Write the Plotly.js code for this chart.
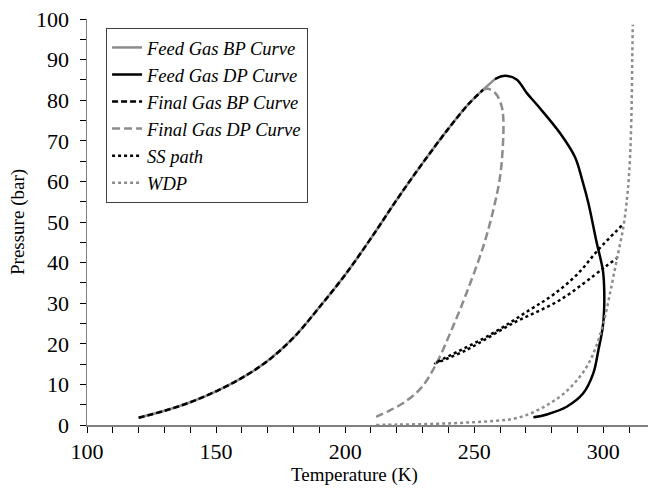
<!DOCTYPE html>
<html>
<head>
<meta charset="utf-8">
<script src="https://cdn.plot.ly/plotly-3.0.1.min.js"></script>
<style>html,body{margin:0;padding:0;background:#fff;}#chart{width:648px;height:493px;}</style>
</head>
<body>
<div id="chart"></div>
<script>
// Feed gas bubble-point curve
const feedBP_T = [120, 130, 140, 150, 160, 170, 180, 190, 200, 210, 220, 230, 240, 248, 253.5, 258];
const feedBP_P = [1.8, 3.5, 5.6, 8.3, 11.6, 15.8, 21.5, 29, 37, 46, 55.5, 64.5, 73, 79.2, 82.6, 85.2];
// Feed gas dew-point curve
const feedDP_T = [258, 261.9, 266.4, 270.3, 274.8, 283.2, 289, 291.8, 294.2, 297.4, 299.8, 300.3, 300.3, 299.8, 298.1, 296.1, 292.2, 285.8, 278.1, 272.9];
const feedDP_P = [85.2, 86, 85.1, 81.8, 78.5, 71.9, 66, 60.4, 54.7, 45, 38.2, 34.1, 28.4, 24.2, 18.5, 12.7, 7.8, 4.5, 2.6, 1.9];
// Final gas bubble-point curve
const finalBP_T = [120, 130, 140, 150, 160, 170, 180, 190, 200, 210, 220, 230, 240, 248, 253.5];
const finalBP_P = [1.8, 3.5, 5.6, 8.3, 11.6, 15.8, 21.5, 29, 37, 46, 55.5, 64.5, 73, 79.2, 82.6];
// Final gas dew-point curve
const finalDP_T = [253.5, 255.4, 258.5, 260.6, 261.2, 261.2, 260, 257.4, 253.5, 247, 241.2, 235.4, 229.5, 222.5, 217, 212];
const finalDP_P = [82.6, 82.8, 81.5, 78.5, 76, 70.3, 61.2, 53, 44, 32.5, 23.4, 15.2, 9.2, 5.4, 3.5, 2];
// Supersonic separator path
const ss_T = [307.1, 298.1, 289.7, 280.6, 271.6, 256.1, 234.8, 247, 265.1, 283.2, 300, 305.2];
const ss_P = [49.1, 43.2, 37, 32.1, 28.4, 22.2, 15.2, 18.5, 25.1, 30.8, 38.6, 41.1];
// Water dew point
const wdp_T = [212, 220, 230, 240, 250, 260, 265, 270, 275, 280, 285, 290, 294, 297, 300, 302.6, 305.2, 307.8, 309.2, 310, 310.6, 311, 311.2, 311.4];
const wdp_P = [0, 0.1, 0.2, 0.4, 0.7, 1.1, 1.5, 2.4, 3.8, 5.6, 7.9, 11.2, 14.8, 19, 25, 32.5, 40.7, 48.9, 56, 62, 70, 80, 90, 98.6];

const names = ["Feed Gas BP Curve", "Feed Gas DP Curve", "Final Gas BP Curve", "Final Gas DP Curve", "SS path", "WDP"];
const xTitle = "Temperature (K)";
const yTitle = "Pressure (bar)";
const GRAY = "#8c8c8c";

const traces = [
  {x: feedBP_T, y: feedBP_P, name: names[0], line: {color: GRAY, width: 2.5, shape: "spline"}},
  {x: feedDP_T, y: feedDP_P, name: names[1], line: {color: "#000", width: 2.5, shape: "spline"}},
  {x: finalBP_T, y: finalBP_P, name: names[2], line: {color: "#000", width: 2.5, dash: "6px,3px", shape: "spline"}},
  {x: finalDP_T, y: finalDP_P, name: names[3], line: {color: GRAY, width: 2.5, dash: "8px,4px", shape: "spline"}},
  {x: ss_T, y: ss_P, name: names[4], line: {color: "#000", width: 2.5, dash: "dot", shape: "spline"}},
  {x: wdp_T, y: wdp_P, name: names[5], line: {color: GRAY, width: 2.5, dash: "dot", shape: "spline"}}
].map(t => Object.assign({type: "scatter", mode: "lines"}, t));

const FONT = "Times New Roman, Liberation Serif, serif";
const layout = {
  width: 648, height: 493,
  margin: {l: 87, r: 0, t: 19, b: 68, pad: 0},
  paper_bgcolor: "#fff", plot_bgcolor: "#fff",
  font: {family: FONT, color: "#000"},
  showlegend: true,
  legend: {
    x: 0.034, y: 0.978, xanchor: "left", yanchor: "top",
    bordercolor: "#404040", borderwidth: 1, bgcolor: "#fff",
    font: {family: FONT, size: 18.5, style: "italic", color: "#000"},
    itemwidth: 30, tracegroupgap: 0
  },
  xaxis: {
    range: [100, 317.3], showgrid: false, zeroline: false,
    showline: true, linecolor: "#808080", linewidth: 1.5,
    ticks: "outside", ticklen: 6, tickcolor: "#000", tickwidth: 1,
    dtick: 50, tick0: 100,
    minor: {dtick: 10, ticks: "outside", ticklen: 6, tickcolor: "#000", tickwidth: 1, showgrid: false},
    tickfont: {family: FONT, size: 22}
  },
  yaxis: {
    range: [0, 100], showgrid: false, zeroline: false,
    showline: true, linecolor: "#808080", linewidth: 1.5,
    ticks: "outside", ticklen: 6, tickcolor: "#000", tickwidth: 1,
    dtick: 10,
    minor: {dtick: 5, ticks: "outside", ticklen: 6, tickcolor: "#000", tickwidth: 1, showgrid: false},
    tickfont: {family: FONT, size: 22},
    ticklabelstandoff: 6
  },
  annotations: [
    {text: xTitle, xref: "paper", yref: "paper", x: 0.476, y: -0.123, xanchor: "center", yanchor: "middle",
     showarrow: false, font: {family: FONT, size: 19, color: "#000"}},
    {text: yTitle, xref: "paper", yref: "paper", x: -0.123, y: 0.5, xanchor: "center", yanchor: "middle",
     textangle: -90, showarrow: false, font: {family: FONT, size: 19, color: "#000"}}
  ]
};

Plotly.newPlot("chart", traces, layout, {displayModeBar: false, staticPlot: true});
</script>
</body>
</html>
